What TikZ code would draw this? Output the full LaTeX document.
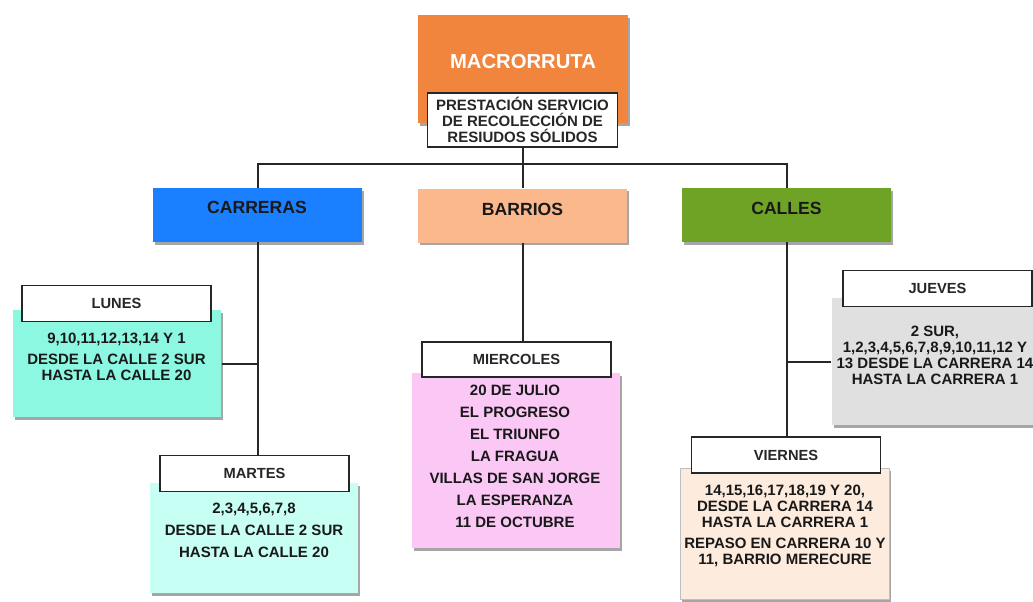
\documentclass[tikz,border=0pt]{standalone}
\usepackage{fontspec}
\setmainfont{Liberation Sans}
\usepackage{xcolor}
\usetikzlibrary{shadows}

\definecolor{macroorange}{RGB}{241,133,62}
\definecolor{carrblue}{RGB}{26,128,255}
\definecolor{barrpeach}{RGB}{250,184,140}
\definecolor{callesgreen}{RGB}{111,163,38}
\definecolor{lunesteal}{RGB}{140,248,226}
\definecolor{martesteal}{RGB}{200,255,244}
\definecolor{mierpink}{RGB}{251,200,246}
\definecolor{juevgray}{RGB}{224,224,224}
\definecolor{vierpeach}{RGB}{253,235,221}

\tikzset{
  conn/.style={line width=1.5pt, black!85},
  softshadow/.style={drop shadow={shadow xshift=1.5pt, shadow yshift=-2.2pt, opacity=0.35, fill=black}},
  topbox/.style={softshadow, minimum width=156.75pt, minimum height=40.5pt, inner sep=0pt},
  toptext/.style={font=\bfseries\fontsize{13.2}{15}\selectfont, text=black!90},
  daybox/.style={draw=black!85, line width=1.4pt, fill=white, minimum width=141.75pt,
    minimum height=27pt, inner sep=0pt, font=\bfseries\fontsize{11}{12}\selectfont, text=black!85},
  listbox/.style={softshadow, minimum width=156.5pt, inner sep=0pt},
  listtext/.style={align=center, inner sep=0pt, font=\bfseries\fontsize{11.25}{12}\selectfont, text=black!90},
  widelist/.style={listtext, font=\bfseries\fontsize{11.25}{16.5}\selectfont}
}

\begin{document}
\begin{tikzpicture}[x=0.75pt, y=-0.75pt]
  \useasboundingbox (0,0) rectangle (1033,601);
  \clip (0,0) rectangle (1033,601);

  % top of the tree
  \node[softshadow, fill=macroorange, minimum width=157.5pt, minimum height=81pt, inner sep=0pt] (macro) at (523,69) {};
  \node[font=\bfseries\fontsize{15.2}{18}\selectfont, text=white] (macrotxt) at (523,61.5) {MACRORRUTA};
  \node[draw=black!85, line width=1.4pt, fill=white, minimum width=142.5pt, minimum height=40.5pt,
    inner sep=0pt, align=center, font=\bfseries\fontsize{11.25}{12}\selectfont, text=black!85] (prest) at (522.5,120)
    {PRESTACIÓN SERVICIO\\DE RECOLECCIÓN DE\\RESIUDOS SÓLIDOS};

  \node[topbox, fill=carrblue] (carr) at (257.5,215) {};
  \node[toptext] (carrtxt) at (257,207) {CARRERAS};
  \node[topbox, fill=barrpeach] (barr) at (522.5,215.5) {};
  \node[toptext] (barrtxt) at (522.5,209) {BARRIOS};
  \node[topbox, fill=callesgreen] (calles) at (786.5,215) {};
  \node[toptext] (callestxt) at (786.5,208) {CALLES};

  \coordinate (hub) at (522.5,164);
  \draw[conn] (prest.south) -- (hub);
  \draw[conn] (carr.north) |- (hub) -| (calles.north);
  \draw[conn] (hub) -- (barr.north);

  % carreras: lunes y martes
  \node[listbox, fill=lunesteal, minimum height=80.25pt] (lunesbg) at (117,363.5) {};
  \node[listtext] (lunestxt) at (116.5,356.5) {9,10,11,12,13,14 Y 1\\[3.75pt]DESDE LA CALLE 2 SUR\\HASTA LA CALLE 20};
  \node[daybox] (lunes) at (116.5,303.5) {LUNES};

  \node[listbox, fill=martesteal, minimum height=82.5pt] (martesbg) at (254,538) {};
  \node[widelist] (martestxt) at (254,530.5) {2,3,4,5,6,7,8\\DESDE LA CALLE 2 SUR\\HASTA LA CALLE 20};
  \node[daybox] (martes) at (254.5,473.5) {MARTES};

  \draw[conn] (carr.south) -- (carr.south |- martes.north);
  \draw[conn] (lunesbg.east) -- (lunesbg.east -| carr.south);

  % barrios: miercoles
  \node[listbox, fill=mierpink, minimum height=131.25pt] (mierbg) at (516,460.5) {};
  \node[widelist] (miertxt) at (515,456) {20 DE JULIO\\EL PROGRESO\\EL TRIUNFO\\LA FRAGUA\\VILLAS DE SAN JORGE\\LA ESPERANZA\\11 DE OCTUBRE};
  \node[daybox, minimum height=26.25pt] (mier) at (516.5,359.5) {MIERCOLES};

  \draw[conn] (barr.south) -- (barr.south |- mier.north);

  % calles: jueves y viernes
  \node[listbox, fill=juevgray, minimum height=95.25pt] (juevbg) at (936,361.5) {};
  \node[listtext] (juevtxt) at (935,355) {2 SUR,\\1,2,3,4,5,6,7,8,9,10,11,12 Y\\13 DESDE LA CARRERA 14\\HASTA LA CARRERA 1};
  \node[daybox] (juev) at (937.5,288.5) {JUEVES};

  \node[listbox, fill=vierpeach, draw=black!25, minimum height=98.25pt] (vierbg) at (784.5,533.5) {};
  \node[listtext] (viertxt) at (785,526) {14,15,16,17,18,19 Y 20,\\DESDE LA CARRERA 14\\HASTA LA CARRERA 1\\[3.75pt]REPASO EN CARRERA 10 Y\\11, BARRIO MERECURE};
  \node[daybox] (vier) at (786,455) {VIERNES};

  \draw[conn] (calles.south) -- (calles.south |- vier.north);
  \draw[conn] (juevbg.west) -- (juevbg.west -| calles.south);
\end{tikzpicture}
\end{document}
